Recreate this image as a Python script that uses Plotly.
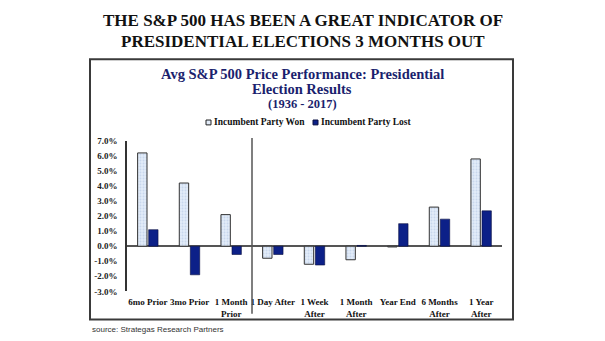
import plotly.graph_objects as go

# Average S&P 500 price change around presidential elections (1936 - 2017)
periods = ["6mo Prior", "3mo Prior", "1 Month<br>Prior", "1 Day After", "1 Week<br>After",
           "1 Month<br>After", "Year End", "6 Months<br>After", "1 Year<br>After"]
incumbent_won = [6.2, 4.2, 2.1, -0.8, -1.2, -0.9, -0.05, 2.6, 5.8]
incumbent_lost = [1.1, -1.9, -0.55, -0.55, -1.25, 0.05, 1.5, 1.8, 2.35]
y_ticks = [7, 6, 5, 4, 3, 2, 1, 0, -1, -2, -3]

W, H = 605, 341
SERIF = "Liberation Serif, Times New Roman, serif"
NAVY = "#1b1f6e"
WON_FILL, WON_DOT, WON_EDGE = "#e3ecf9", "#a9bfe0", "#333333"
LOST_FILL, LOST_EDGE = "#0c2088", "#0a0f40"


def px(x):
    return x / W


def py(y):
    return (H - y) / H


fig = go.Figure()
fig.add_trace(go.Bar(
    x=periods, y=incumbent_won, name="Incumbent Party Won",
    marker=dict(color=WON_FILL,
                line=dict(color=WON_EDGE, width=1),
                pattern=dict(shape=".", fgcolor=WON_DOT, bgcolor=WON_FILL,
                             size=3, solidity=0.35)),
))
fig.add_trace(go.Bar(
    x=periods, y=incumbent_lost, name="Incumbent Party Lost",
    marker=dict(color=LOST_FILL, line=dict(color=LOST_EDGE, width=0.6)),
))

shapes = [
    # outer frame around the chart panel
    dict(type="rect", xref="paper", yref="paper",
         x0=px(90), x1=px(513), y0=py(324), y1=py(56),
         line=dict(color="#3a3a3a", width=2)),
    # divider between pre- and post-election periods
    dict(type="line", xref="x", yref="paper",
         x0=2.5, x1=2.5, y0=py(318), y1=py(137),
         line=dict(color="#555555", width=1.5)),
    # compact legend swatches
    dict(type="rect", xref="paper", yref="paper",
         x0=px(206), x1=px(211), y0=py(123.5), y1=py(118.5),
         fillcolor=WON_FILL, line=dict(color="#222222", width=1)),
    dict(type="rect", xref="paper", yref="paper",
         x0=px(313), x1=px(318), y0=py(123.5), y1=py(118.5),
         fillcolor=LOST_FILL, line=dict(color=LOST_EDGE, width=1)),
]

annotations = [
    dict(text="THE S&P 500 HAS BEEN A GREAT INDICATOR OF", x=0.5, y=py(16)),
    dict(text="PRESIDENTIAL ELECTIONS 3 MONTHS OUT", x=0.5, y=py(38)),
]
for a in annotations:
    a.update(xref="paper", yref="paper", showarrow=False, xanchor="center",
             yanchor="middle",
             font=dict(family=SERIF, size=17, color="#111111", weight="bold"))

sub = [
    ("Avg S&P 500 Price Performance: Presidential", 71, 14.5),
    ("Election Results", 86.5, 14.5),
    ("(1936 - 2017)", 101.5, 12.5),
]
for text, y, size in sub:
    annotations.append(dict(text=text, x=px(302), y=py(y), xref="paper", yref="paper",
                            showarrow=False, xanchor="center", yanchor="middle",
                            font=dict(family=SERIF, size=size, color=NAVY, weight="bold")))

for text, x in [("Incumbent Party Won", 212), ("Incumbent Party Lost", 319)]:
    annotations.append(dict(text=text, x=px(x), y=py(121), xref="paper", yref="paper",
                            showarrow=False, xanchor="left", yanchor="middle",
                            font=dict(family=SERIF, size=9.5, color="#111111",
                                      weight="bold")))

annotations.append(dict(text="source: Strategas Research Partners", x=px(90), y=py(334),
                        xref="paper", yref="paper", showarrow=False, xanchor="left",
                        yanchor="middle",
                        font=dict(family="Liberation Sans, Arial, sans-serif", size=8,
                                  color="#333333")))

fig.update_layout(
    width=W, height=H,
    margin=dict(l=0, r=0, t=0, b=0),
    paper_bgcolor="white", plot_bgcolor="white",
    barmode="group", bargap=0.47, bargroupgap=0.15,
    showlegend=False,
    shapes=shapes,
    annotations=annotations,
    xaxis=dict(domain=[px(127), px(502)], showgrid=False, showline=False,
               ticks="", tickangle=0, ticklabelstandoff=4,
               tickfont=dict(family=SERIF, size=9, color="#111111", weight="bold")),
    yaxis=dict(domain=[py(295), py(140)], range=[-3, 7], tickvals=y_ticks,
               ticktext=[f"{v:.1f}%" for v in y_ticks],
               showgrid=False, showline=True, linecolor="#333333", linewidth=1.5,
               zeroline=True, zerolinecolor="#555555", zerolinewidth=1.5,
               ticks="", ticklabelstandoff=6,
               tickfont=dict(family=SERIF, size=9, color="#222222", weight="bold")),
)

fig.write_html("out.html")
